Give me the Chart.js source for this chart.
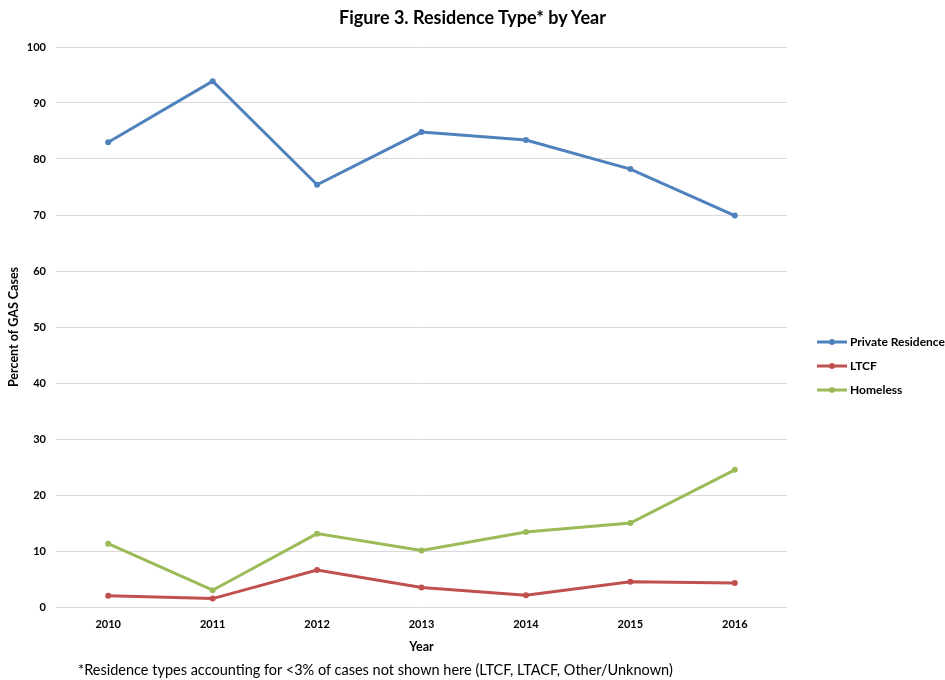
<!DOCTYPE html>
<html>
<head>
<meta charset="utf-8">
<script src="https://cdn.jsdelivr.net/npm/chart.js@4/dist/chart.umd.min.js"></script>
<style>
  body { margin: 0; background: #fff; }
  #wrap { position: relative; width: 945px; height: 680px; }
  #title { position: absolute; top: 6px; left: 0; width: 945px; text-align: center;
           font: bold 18px Lato, "Open Sans", sans-serif; color: #000; }
  #note { position: absolute; top: 661px; left: 78px;
          font: 14.5px Lato, "Open Sans", sans-serif; color: #000; }
</style>
</head>
<body>
<div id="wrap">
  <canvas id="chart" width="945" height="680"></canvas>
  <div id="title">Figure 3. Residence Type* by Year</div>
  <div id="note">*Residence types accounting for &lt;3% of cases not shown here (LTCF, LTACF, Other/Unknown)</div>
</div>
<script>
// ===== Residence type by year =====
const years = ['2010', '2011', '2012', '2013', '2014', '2015', '2016'];
const privateResidence = [83.0, 93.9, 75.4, 84.8, 83.4, 78.2, 69.9];
const ltcf = [2.0, 1.5, 6.6, 3.5, 2.1, 4.5, 4.3];
const homeless = [11.3, 3.0, 13.1, 10.1, 13.4, 15.0, 24.5];
const seriesNames = ['Private Residence', 'LTCF', 'Homeless'];
const seriesColors = ['#4f81bd', '#c0504d', '#9bbb59'];

const fontFamily = 'Lato, "Open Sans", sans-serif';

function makeSeries(label, data, color) {
    return {
        label, data,
        borderColor: color,
        backgroundColor: color,
        borderWidth: 3,
        pointRadius: 3,
        pointBorderWidth: 0,
        tension: 0
    };
}

// Legend drawn to the right, like the original
const sideLegend = {
    id: 'sideLegend',
    afterDraw(chart) {
        const ctx = chart.ctx;
        ctx.save();
        ctx.font = 'bold 12px ' + fontFamily;
        ctx.textBaseline = 'middle';
        chart.data.datasets.forEach((ds, i) => {
            const y = 342 + i * 24;
            ctx.strokeStyle = ds.borderColor;
            ctx.lineWidth = 3;
            ctx.beginPath();
            ctx.moveTo(817, y);
            ctx.lineTo(847, y);
            ctx.stroke();
            ctx.fillStyle = ds.borderColor;
            ctx.beginPath();
            ctx.arc(832, y, 3, 0, Math.PI * 2);
            ctx.fill();
            ctx.fillStyle = '#000';
            ctx.fillText(ds.label, 850, y);
        });
        ctx.restore();
    }
};

new Chart(document.getElementById('chart').getContext('2d'), {
    type: 'line',
    data: {
        labels: years,
        datasets: [
            makeSeries(seriesNames[0], privateResidence, seriesColors[0]),
            makeSeries(seriesNames[1], ltcf, seriesColors[1]),
            makeSeries(seriesNames[2], homeless, seriesColors[2])
        ]
    },
    options: {
        responsive: false,
        animation: false,
        layout: { padding: { top: 47, right: 158, bottom: 26, left: 6 } },
        plugins: { legend: { display: false }, title: { display: false }, tooltip: { enabled: false } },
        scales: {
            x: {
                offset: true,
                grid: { display: false },
                border: { display: false },
                ticks: { color: '#000', font: { family: fontFamily, size: 11, weight: 'bold' }, padding: 3 },
                title: { display: true, text: 'Year', color: '#000',
                         font: { family: fontFamily, size: 12.5, weight: 'bold' }, padding: { top: 4, bottom: 0 } },
                afterFit: s => { s.height = 47; }
            },
            y: {
                min: 0, max: 100,
                ticks: { stepSize: 10, color: '#000', font: { family: fontFamily, size: 11, weight: 'bold' }, padding: 10 },
                grid: { color: '#d9d9d9', lineWidth: 1, drawTicks: false },
                border: { display: false },
                title: { display: true, text: 'Percent of GAS Cases', color: '#000',
                         font: { family: fontFamily, size: 12.5, weight: 'bold' }, padding: { top: 0, bottom: 0 } },
                afterFit: s => { s.width = 50; }
            }
        }
    },
    plugins: [sideLegend]
});
</script>
</body>
</html>
